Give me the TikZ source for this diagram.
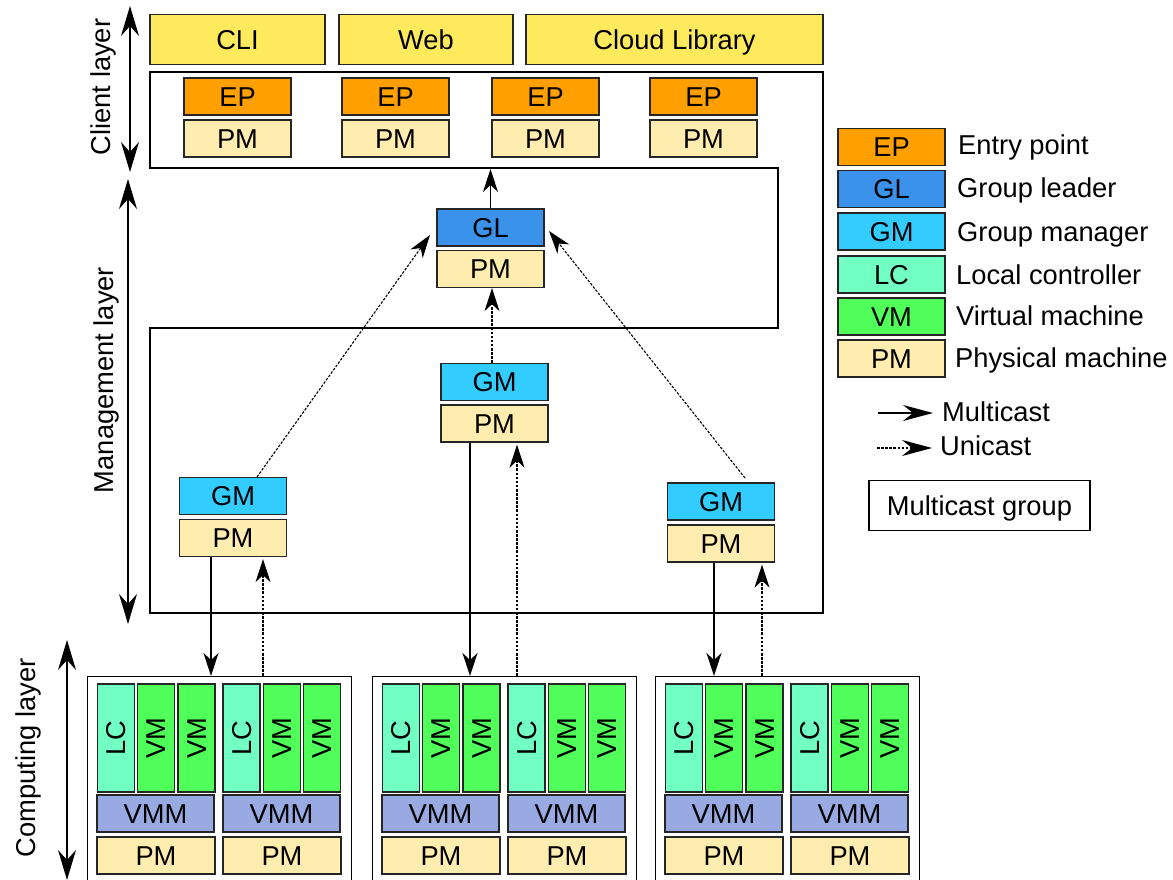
\documentclass[tikz,border=0pt]{standalone}
\usepackage{fontspec}
\setmainfont{Liberation Sans}
\usetikzlibrary{arrows.meta,calc}

\definecolor{cliY}{RGB}{255,233,92}
\definecolor{epC}{RGB}{255,160,0}
\definecolor{pmC}{RGB}{255,236,175}
\definecolor{glC}{RGB}{58,146,234}
\definecolor{gmC}{RGB}{51,204,255}
\definecolor{lcC}{RGB}{114,255,196}
\definecolor{vmC}{RGB}{80,255,90}
\definecolor{vmmC}{RGB}{152,170,225}

\begin{document}
\begin{tikzpicture}[x=1pt,y=-1pt,
  every node/.style={font=\fontsize{27.3}{31}\selectfont, text height=19.5pt, text depth=0pt, inner sep=0pt},
  box/.style={draw=black!85, line width=1.3pt},
  unitbox/.style={box, minimum width=107pt, minimum height=37pt},
  ep/.style={unitbox, fill=epC},
  pm/.style={unitbox, fill=pmC},
  gl/.style={unitbox, fill=glC},
  gm/.style={unitbox, fill=gmC},
  client/.style={box, fill=cliY, minimum height=50pt},
  lc/.style={box, fill=lcC, rotate=90, minimum width=108pt, minimum height=37pt},
  vm/.style={box, fill=vmC, rotate=90, minimum width=108pt, minimum height=37pt},
  vmm/.style={box, fill=vmmC, minimum width=117pt, minimum height=37pt},
  hostpm/.style={box, fill=pmC, minimum width=118pt, minimum height=37pt},
  cluster/.style={draw=black, line width=1.3pt, fill=white},
  mgroup/.style={draw=black, line width=1.4pt},
  mc/.style={line width=1.3pt, -{Stealth[length=23pt,width=15pt,inset=7pt]}},
  uc/.style={line width=1.1pt, dash pattern=on 2.6pt off 1.5pt, -{Stealth[length=23pt,width=15pt,inset=7pt]}},
  legmc/.style={line width=1.3pt, shorten >=9pt, -{Stealth[length=30pt,width=16pt,inset=10pt]}},
  leguc/.style={line width=1.1pt, dash pattern=on 2.6pt off 1.5pt, shorten >=8pt, -{Stealth[length=30pt,width=16pt,inset=10pt]}},
  layer/.style={line width=1.5pt, {Stealth[length=30pt,width=18pt,inset=10pt]}-{Stealth[length=30pt,width=18pt,inset=10pt]}},
  legtext/.style={anchor=west}
]
\useasboundingbox (0,0) rectangle (1173,880);

% multicast group outline (client part and management part)
\draw[mgroup] (150,72) -- (823,72) -- (823,613) -- (150,613) -- (150,328)
  -- (778,328) -- (778,168) -- (150,168) -- cycle;

% client interfaces
\node[client, minimum width=175pt] (cli) at (237.5,39.5) {CLI};
\node[client, minimum width=174pt] (web) at (426,39.5) {Web};
\node[client, minimum width=297pt] (lib) at (674.5,39.5) {Cloud Library};

% entry points
\foreach \x [count=\i] in {237.5,395.5,545.5,703.5} {
  \node[ep] (ep\i) at (\x,96.5) {EP};
  \node[pm] (eppm\i) at (\x,138.5) {PM};
}

% group leader
\node[gl] (gl) at (490.5,227.5) {GL};
\node[pm] (glpm) at (490.5,269) {PM};

% group managers
\node[gm] (gmL) at (233,496) {GM};
\node[pm] (gmLpm) at (233,538) {PM};
\node[gm] (gmM) at (494.5,382) {GM};
\node[pm] (gmMpm) at (494.5,423.5) {PM};
\node[gm] (gmR) at (721,501.5) {GM};
\node[pm] (gmRpm) at (721,543.5) {PM};

% computing clusters
\foreach \dx [count=\c] in {0,285,568} {
  \begin{scope}[xshift=\dx pt]
    \node[cluster, anchor=north west, minimum width=264pt, minimum height=215pt] (cl\c) at (87,676) {};
    \node[lc] (lc\c a) at (116,738) {LC};
    \node[vm] (vm\c a) at (156,738) {VM};
    \node[vm] (vm\c b) at (196.5,738) {VM};
    \node[lc] (lc\c b) at (241.5,738) {LC};
    \node[vm] (vm\c c) at (282,738) {VM};
    \node[vm] (vm\c d) at (322,738) {VM};
    \node[vmm] (vmm\c a) at (155.5,813.5) {VMM};
    \node[vmm] (vmm\c b) at (281.5,813.5) {VMM};
    \node[hostpm] (hpm\c a) at (156,855.5) {PM};
    \node[hostpm] (hpm\c b) at (282,855.5) {PM};
  \end{scope}
}

% free ends near the group leader and inside the client group
\coordinate (clientIn) at (490.5,169);
\coordinate (glInL) at (430,235);
\coordinate (glInR) at (549,231);
\coordinate (gmLtop) at (257,477);
\coordinate (gmRtop) at (745,478);

% links inside the hierarchy
\draw[mc] (gl.north) -- (clientIn);
\draw[uc] (gmLtop) -- (glInL);
\draw[uc] (gmRtop) -- (glInR);
\draw[uc] (gmM.north -| 492,0) -- (glpm.south -| 492,0);

% links between group managers and clusters
\draw[mc] (gmLpm.south -| 211,0) -- (cl1.north -| 211,0);
\draw[uc] (cl1.north -| 263,0) -- ([yshift=-2pt]gmLpm.south -| 263,0);
\draw[mc] (gmMpm.south -| 470,0) -- (cl2.north -| 470,0);
\draw[uc] (cl2.north -| 517,0) -- ([yshift=-2pt]gmMpm.south -| 517,0);
\draw[mc] (gmRpm.south -| 714,0) -- (cl3.north -| 714,0);
\draw[uc] (cl3.north -| 762,0) -- ([yshift=-2pt]gmRpm.south -| 762,0);

% layer markers
\coordinate (clTop) at (130,6);
\coordinate (clBot) at (130,172);
\coordinate (mgTop) at (128,179);
\coordinate (mgBot) at (128,624);
\coordinate (cpTop) at (67,640);
\coordinate (cpBot) at (67,880);
\draw[layer] (clTop) -- (clBot);
\draw[layer] (mgTop) -- (mgBot);
\draw[layer] (cpTop) -- (cpBot);
\node[rotate=90] (clLab) at (101,87) {Client layer};
\node[rotate=90] (mgLab) at (104,380) {Management layer};
\node[rotate=90] (cpLab) at (26,758) {Computing layer};

% legend
\node[ep] (kEP) at (891.5,147) {EP};
\node[gl] (kGL) at (891.5,189) {GL};
\node[gm] (kGM) at (891.5,231.5) {GM};
\node[lc, rotate=-90, minimum width=107pt, minimum height=37pt] (kLC) at (891.5,274.5) {LC};
\node[vm, rotate=-90, minimum width=107pt, minimum height=37pt] (kVM) at (891.5,316.5) {VM};
\node[pm] (kPM) at (891.5,358.5) {PM};
\node[legtext] (tEP) at (958,145) {Entry point};
\node[legtext] (tGL) at (957,188) {Group leader};
\node[legtext] (tGM) at (957,232) {Group manager};
\node[legtext] (tLC) at (956,275) {Local controller};
\node[legtext] (tVM) at (956,316) {Virtual machine};
\node[legtext] (tPM) at (955,358) {Physical machine};
\node[legtext] (tMC) at (942,412) {Multicast};
\node[legtext] (tUC) at (940,446) {Unicast};
\coordinate (kMC) at (878,413);
\coordinate (kUC) at (877,448);
\draw[legmc] (kMC) -- (kMC -| tMC.west);
\draw[leguc] (kUC) -- (kUC -| tUC.west);
\node[draw=black, line width=1.3pt, minimum width=221pt, minimum height=50pt] (kGroup) at (979.5,505.5) {Multicast group};
\end{tikzpicture}
\end{document}
